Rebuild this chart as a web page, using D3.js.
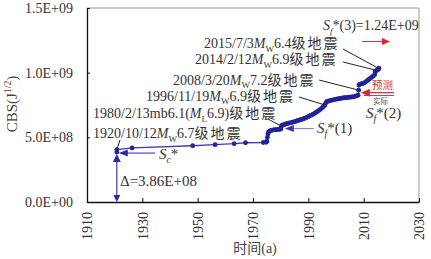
<!DOCTYPE html>
<html>
<head>
<meta charset="utf-8">
<script src="https://cdn.jsdelivr.net/npm/d3@7"></script>
<style>
  body { margin: 0; background: #fff; }
  svg { display: block; font-family: "Liberation Serif", "Times New Roman", "Noto Sans CJK SC", serif; }
</style>
</head>
<body>
<div id="chart"></div>
<script>
// Axis ticks
const xTicks = [1910, 1930, 1950, 1970, 1990, 2010, 2030];
const yTicks = [0, 5e8, 1e9, 1.5e9];
const yTickLabels = ["0.0E+00", "5.0E+08", "1.0E+09", "1.5E+09"];

// Cumulative Benioff strain
const years = [
  1920.78, 1920.78, 1926.3, 1948.2, 1956.3, 1963.2, 1967.3, 1973.7,
  1974.8, 1975.0, 1975.2, 1975.4, 1975.6, 1976.0, 1976.5, 1977.0, 1977.5, 1978.0, 1978.5, 1979.0, 1979.5, 1980.0,
  1980.2, 1980.4, 1980.8, 1981.3, 1981.8, 1982.3, 1982.8, 1983.3, 1983.8, 1984.3, 1984.8, 1985.3, 1985.8,
  1986.3, 1986.8, 1987.3, 1987.8, 1988.3, 1988.8, 1989.3, 1989.8, 1990.3, 1990.8, 1991.3, 1991.8,
  1992.3, 1992.8, 1993.3, 1993.8, 1994.3, 1994.8, 1995.3, 1995.8, 1996.0, 1996.3, 1996.6,
  1997.1, 1997.6, 1998.1, 1998.6, 1999.1, 1999.6, 2000.1, 2000.6, 2001.1, 2001.6, 2002.1, 2002.6,
  2003.1, 2003.6, 2004.1, 2004.6, 2005.1, 2005.6, 2006.1, 2006.6, 2007.1, 2007.6, 2008.0,
  2008.2, 2008.3, 2008.6, 2009.0, 2009.5, 2010.0, 2010.5, 2011.0, 2011.5, 2012.0, 2012.5, 2013.0,
  2013.5, 2014.0, 2014.1, 2014.3, 2014.7, 2015.0, 2015.3, 2015.5
];
const cbs = [
  3.86e8, 4.05e8, 4.18e8, 4.35e8, 4.43e8, 4.51e8, 4.58e8, 4.60e8,
  4.62e8, 4.70e8, 5.00e8, 5.25e8, 5.40e8, 5.48e8, 5.53e8, 5.56e8, 5.58e8, 5.59e8, 5.60e8, 5.61e8, 5.62e8, 5.63e8,
  5.80e8, 5.92e8, 5.96e8, 5.99e8, 6.03e8, 6.06e8, 6.09e8, 6.12e8, 6.14e8, 6.17e8, 6.20e8, 6.23e8, 6.27e8,
  6.30e8, 6.34e8, 6.37e8, 6.40e8, 6.44e8, 6.48e8, 6.53e8, 6.58e8, 6.64e8, 6.69e8, 6.74e8, 6.80e8,
  6.86e8, 6.93e8, 7.00e8, 7.08e8, 7.16e8, 7.24e8, 7.35e8, 7.45e8, 7.50e8, 7.65e8, 7.76e8,
  7.79e8, 7.82e8, 7.85e8, 7.88e8, 7.90e8, 7.93e8, 7.95e8, 7.97e8, 7.99e8, 8.01e8, 8.03e8, 8.05e8,
  8.06e8, 8.07e8, 8.08e8, 8.10e8, 8.11e8, 8.12e8, 8.13e8, 8.15e8, 8.18e8, 8.22e8, 8.26e8,
  8.65e8, 9.05e8, 9.10e8, 9.13e8, 9.16e8, 9.19e8, 9.25e8, 9.33e8, 9.42e8, 9.50e8, 9.58e8, 9.66e8,
  9.75e8, 9.85e8, 10.05e8, 10.12e8, 10.18e8, 10.22e8, 10.26e8, 10.34e8
];
const deltaValue = 3.86e8;   // Δ = 3.86E+08
const sf1Value = 5.68e8;     // level pointed at by Sf*(1)
const sf2Value = 8.30e8;     // level pointed at by Sf*(2)

const data = years.map((t, i) => ({ t, v: cbs[i] }));

const width = 431, height = 259;
const margin = { left: 87, right: 12, top: 8, bottom: 57 };

const x = d3.scaleLinear().domain([1910, 2030]).range([margin.left, width - margin.right]);
const y = d3.scaleLinear().domain([0, 1.5e9]).range([height - margin.bottom, margin.top]);

const svg = d3.select("#chart").append("svg")
  .attr("width", width)
  .attr("height", height);

const blue = "#22229a";
const textCol = "#333";

// light frame on top and right
svg.append("path")
  .attr("d", `M${x(1910)},${y(1.5e9)}H${x(2030)}V${y(0)}`)
  .attr("fill", "none")
  .attr("stroke", "#9a9a9a")
  .attr("stroke-width", 1);

// axes
const xAxis = svg.append("g")
  .attr("transform", `translate(0,${y(0)})`)
  .call(d3.axisBottom(x).tickValues(xTicks).tickFormat(d3.format("d")).tickSize(-4).tickSizeOuter(0));
xAxis.selectAll("text")
  .attr("transform", "rotate(-90)")
  .attr("text-anchor", "end")
  .attr("x", -10)
  .attr("y", 0)
  .attr("dy", "0.35em");

const yAxis = svg.append("g")
  .attr("transform", `translate(${x(1910)},0)`)
  .call(d3.axisLeft(y).tickValues(yTicks).tickFormat((d, i) => yTickLabels[i]).tickSize(-3).tickSizeOuter(0).tickPadding(14));

svg.selectAll(".domain").attr("stroke", "#111").attr("stroke-width", 1.3);
svg.selectAll(".tick line").attr("stroke", "#111");
svg.selectAll(".tick text")
  .attr("fill", textCol)
  .style("font-size", "14px")
  .style("font-family", "'Liberation Serif', serif");

// helper: text with italic / sub / sup runs
const addText = (parent, px, py, parts, size, fill, anchor) => {
  const t = parent.append("text")
    .attr("x", px).attr("y", py)
    .attr("fill", fill || textCol)
    .attr("text-anchor", anchor || "start")
    .style("font-size", size + "px");
  let shift = 0;
  parts.forEach(p => {
    const s = t.append("tspan").text(p.t);
    let want = p.sub ? size * 0.28 : p.sup ? -size * 0.38 : 0;
    s.attr("dy", want - shift);
    shift = want;
    if (p.sub || p.sup) s.style("font-size", (size * 0.65) + "px");
    if (p.i) s.style("font-style", "italic");
    if (p.cjk) s.style("letter-spacing", "2px");
  });
  return t;
};

// axis titles
addText(svg, 255, 253, [{ t: "时间(a)" }], 14, "#444", "middle");
const yTitle = svg.append("g").attr("transform", "translate(17,104) rotate(-90)");
addText(yTitle, 0, 0, [{ t: "CBS(J" }, { t: "1/2", sup: true }, { t: ")" }], 15, "#444", "middle");

// data line and points
const line = d3.line().x(d => x(d.t)).y(d => y(d.v));
svg.append("path")
  .datum(data)
  .attr("d", line)
  .attr("fill", "none")
  .attr("stroke", "#3d3db0")
  .attr("stroke-width", 1.3);

svg.selectAll("circle.pt")
  .data(data)
  .enter()
  .append("circle")
  .attr("class", "pt")
  .attr("cx", d => x(d.t))
  .attr("cy", d => y(d.v))
  .attr("r", 2.4)
  .attr("fill", blue);

// arrow heads
const head = (px, py, dir, color, len, half) => {
  // dir: "left","right","up","down" — tip at (px,py)
  let pts;
  if (dir === "left") pts = [[px, py], [px + len, py - half], [px + len, py + half]];
  if (dir === "right") pts = [[px, py], [px - len, py - half], [px - len, py + half]];
  if (dir === "up") pts = [[px, py], [px - half, py + len], [px + half, py + len]];
  if (dir === "down") pts = [[px, py], [px - half, py - len], [px + half, py - len]];
  svg.append("path").attr("d", "M" + pts.join("L") + "Z").attr("fill", color);
};

// Δ arrow
const x0 = x(years[0]);
svg.append("line")
  .attr("x1", x0).attr("x2", x0)
  .attr("y1", y(0) - 2).attr("y2", y(deltaValue) + 4)
  .attr("stroke", "#3c3cb0").attr("stroke-width", 1.2);
head(x0, y(0), "down", "#2a2aa8", 7, 3.5);
head(x0, y(deltaValue) + 2, "up", "#2a2aa8", 8, 4);
addText(svg, 120, 186, [{ t: "Δ=3.86E+08" }], 15);

// Sc* arrow
const ySc = y(deltaValue) + 1;
svg.append("line")
  .attr("x1", x0 + 8).attr("x2", 155)
  .attr("y1", ySc).attr("y2", ySc)
  .attr("stroke", "#4a4ab8").attr("stroke-width", 1.2);
head(x0 + 2, ySc, "left", "#2a2aa8", 9, 3.5);
addText(svg, 159, 159, [{ t: "S", i: true }, { t: "c", i: true, sub: true }, { t: "*" }], 15);

// Sf*(1) arrow
const yS1 = y(sf1Value);
svg.append("line")
  .attr("x1", x(1981.5) + 8).attr("x2", 314)
  .attr("y1", yS1).attr("y2", yS1)
  .attr("stroke", "#8a8ad0").attr("stroke-width", 1.2);
head(x(1981.5), yS1, "left", "#3535b0", 9, 3.5);
addText(svg, 317, 133, [{ t: "S", i: true }, { t: "f", i: true, sub: true }, { t: "*(1)" }], 15);

// Sf*(2) arrows (predicted / actual)
const yS2 = y(sf2Value);
svg.append("line")
  .attr("x1", x(2009) + 8).attr("x2", 394)
  .attr("y1", yS2 - 2).attr("y2", yS2 - 2)
  .attr("stroke", "#e03030").attr("stroke-width", 1.3);
head(x(2009), yS2 - 2, "left", "#e52525", 9, 4);
svg.append("line")
  .attr("x1", x(2009) + 3).attr("x2", 394)
  .attr("y1", yS2 + 0.8).attr("y2", yS2 + 0.8)
  .attr("stroke", "#5a5ab8").attr("stroke-width", 1);
addText(svg, 372, 88.5, [{ t: "预测" }], 10.5, "#e03030");
addText(svg, 373, 104, [{ t: "实际" }], 7.5, "#555");
addText(svg, 366, 118, [{ t: "S", i: true }, { t: "f", i: true, sub: true }, { t: "*(2)" }], 15);

// Sf*(3) prediction
svg.append("line")
  .attr("x1", 362).attr("x2", 383)
  .attr("y1", 41.5).attr("y2", 41.5)
  .attr("stroke", "#e03030").attr("stroke-width", 1);
head(390, 41.5, "right", "#e52525", 8, 3.5);
addText(svg, 323, 30, [{ t: "S", i: true }, { t: "f", i: true, sub: true }, { t: "*(3)=1.24E+09" }], 14);

// earthquake labels with leader lines
const quakes = [
  { label: [{ t: "2015/7/3" }, { t: "M", i: true }, { t: "W", sub: true }, { t: "6.4" }, { t: "级地震", cjk: true }], tx: 204, ty: 48,
    from: [343, 49], at: [2015.3, 10.34e8] },
  { label: [{ t: "2014/2/12" }, { t: "M", i: true }, { t: "W", sub: true }, { t: "6.9" }, { t: "级地震", cjk: true }], tx: 195, ty: 64,
    from: [343, 62], at: [2014.6, 10.18e8] },
  { label: [{ t: "2008/3/20" }, { t: "M", i: true }, { t: "W", sub: true }, { t: "7.2" }, { t: "级地震", cjk: true }], tx: 173, ty: 84.5,
    from: [319, 80], at: [2008.2, 8.65e8] },
  { label: [{ t: "1996/11/19" }, { t: "M", i: true }, { t: "W", sub: true }, { t: "6.9" }, { t: "级地震", cjk: true }], tx: 146, ty: 100.5,
    from: [299, 97], at: [1996.0, 7.5e8] },
  { label: [{ t: "1980/2/13mb6.1(" }, { t: "M", i: true }, { t: "L", sub: true }, { t: "6.9)" }, { t: "级地震", cjk: true }], tx: 93, ty: 118,
    from: [268, 119], at: [1980.3, 5.85e8] },
  { label: [{ t: "1920/10/12" }, { t: "M", i: true }, { t: "W", sub: true }, { t: "6.7" }, { t: "级地震", cjk: true }], tx: 93, ty: 138,
    from: [120, 140], at: [1920.78, 4.05e8] }
];

quakes.forEach(q => {
  svg.append("line")
    .attr("x1", q.from[0]).attr("y1", q.from[1])
    .attr("x2", x(q.at[0])).attr("y2", y(q.at[1]))
    .attr("stroke", "#222").attr("stroke-width", 1);
  addText(svg, q.tx, q.ty, q.label, 14);
});
</script>
</body>
</html>
